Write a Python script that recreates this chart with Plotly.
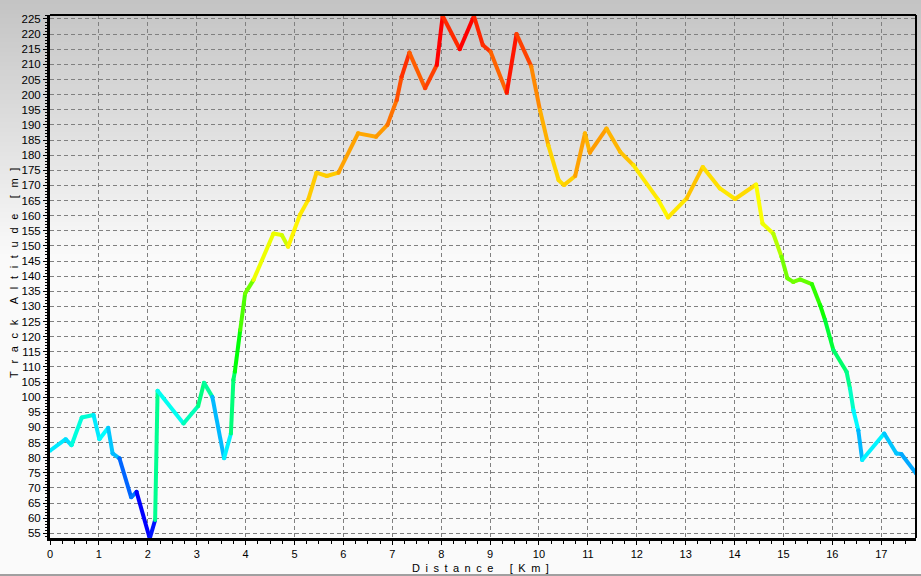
import colorsys
import numpy as np
import plotly.graph_objects as go

# ---- data ----
distance_km = [0, 0.32, 0.44, 0.65, 0.89, 1.01, 1.19, 1.28, 1.42, 1.66, 1.77, 2.04, 2.15, 2.20,
               2.73, 3.03, 3.15, 3.32, 3.56, 3.70, 3.75, 3.78, 3.89, 3.99, 4.16, 4.57, 4.74,
               4.87, 5.11, 5.28, 5.45, 5.66, 5.90, 6.30, 6.67, 6.90, 7.09, 7.19, 7.35, 7.67,
               7.91, 8.03, 8.38, 8.67, 8.85, 9.01, 9.34, 9.54, 9.84, 10.02, 10.19, 10.40,
               10.51, 10.74, 10.94, 11.04, 11.38, 11.66, 11.93, 12.44, 12.64, 13.02, 13.35,
               13.70, 14.01, 14.44, 14.57, 14.79, 14.96, 15.08, 15.20, 15.34, 15.58, 15.75,
               15.85, 16.02, 16.29, 16.36, 16.43, 16.53, 16.61, 17.06, 17.31, 17.41, 17.71]
altitude_m = [82.3, 86.1, 84.1, 93.3, 94.1, 86.1, 89.9, 81.4, 79.8, 66.9, 68.7, 53.3, 59.4, 102.1,
              91.3, 97.1, 104.8, 100.1, 79.8, 88.0, 105.7, 108.4, 122.2, 134.3, 138.7, 154.1, 153.6,
              149.7, 160.2, 165.2, 174.2, 173.1, 174.2, 187.2, 186.1, 190.0, 198.2, 205.9, 213.9, 202.1,
              209.8, 226.0, 215.0, 226.0, 216.4, 214.2, 200.6, 220.0, 209.4, 194.9, 183.3, 171.8,
              170.1, 173.1, 187.2, 180.8, 188.8, 181.1, 176.7, 165.2, 159.4, 165.7, 176.1,
              169.0, 165.5, 170.3, 157.4, 154.1, 146.4, 139.3, 138.1, 138.9, 137.4, 130.4,
              125.5, 115.6, 108.4, 102.9, 95.7, 89.1, 79.2, 88.0, 81.4, 81.2, 74.8]

x_title = "D\u2002i\u2002s\u2002t\u2002a\u2002n\u2002c\u2002e\u2002\u2002\u2002[\u2002K\u2002m\u2002]"
y_title = ("T\u2002\u2009r\u2002\u2009a\u2002\u2009c\u2002\u2009k\u2002\u2009\u2002\u2009"
           "A\u2002\u2009l\u2002\u2009t\u2002\u2009i\u2002\u2009t\u2002\u2009u\u2002\u2009"
           "d\u2002\u2009e\u2002\u2009\u2002\u2009[\u2002\u2009m\u2002\u2009]")

# ---- colour scale (altitude -> hue) ----
HUE_ALT = [53, 60, 68, 75, 80, 85, 90, 95, 100, 105, 110, 120, 130, 138, 146, 154, 160,
           170, 175, 185, 195, 200, 210, 215, 220, 226]
HUE_DEG = [240, 235, 213, 200, 196, 186, 180, 168, 157, 150, 142, 125, 110, 95, 78, 64, 58,
           52, 47, 40, 32, 24, 15, 10, 5, 0]


def alt_color(a):
    h = float(np.interp(a, HUE_ALT, HUE_DEG)) / 360.0
    r, g, b = colorsys.hsv_to_rgb(h, 1.0, 1.0)
    return f"rgb({int(r*255)},{int(g*255)},{int(b*255)})"


# ---- geometry helpers (pixel -> paper) ----
W, H = 921, 576
ML, MR, MT, MB = 50, 5, 15, 38
PW, PH = W - ML - MR, H - MT - MB


def px_x(x):
    return (x - ML) / PW


def px_y(y):
    return (H - MB - y) / PH


fig = go.Figure()

for i in range(1, len(distance_km)):
    c = alt_color(altitude_m[i])
    fig.add_trace(go.Scatter(
        x=[distance_km[i - 1], distance_km[i]],
        y=[altitude_m[i - 1], altitude_m[i]],
        mode="lines+markers",
        line=dict(color=c, width=4),
        marker=dict(color=c, size=4),
        showlegend=False, hoverinfo="skip"))

shapes = []
# background gradient
for yp in range(0, 262, 2):
    g = int(min(250, 196 + (yp + 1) / 255.0 * 54))
    col = f"rgb({g},{g},{g})"
    shapes.append(dict(type="rect", xref="paper", yref="paper",
                       x0=px_x(0), x1=px_x(W), y0=px_y(yp + 2.5), y1=px_y(yp),
                       fillcolor=col, line=dict(width=0), layer="below"))
shapes.append(dict(type="rect", xref="paper", yref="paper",
                   x0=px_x(0), x1=px_x(W), y0=px_y(H), y1=px_y(262),
                   fillcolor="rgb(250,250,250)", line=dict(width=0), layer="below"))
# bottom window line
shapes.append(dict(type="line", xref="paper", yref="paper",
                   x0=px_x(0), x1=px_x(W), y0=px_y(575), y1=px_y(575),
                   line=dict(color="#a0a0a0", width=2), layer="above"))
# top & right frame
shapes.append(dict(type="line", xref="paper", yref="paper", x0=0, x1=1, y0=1, y1=1,
                   line=dict(color="black", width=2), layer="above"))
shapes.append(dict(type="line", xref="paper", yref="paper", x0=1, x1=1, y0=0, y1=1,
                   line=dict(color="black", width=2), layer="above"))

font_main = "Liberation Sans, Arial, sans-serif"

fig.update_layout(
    width=W, height=H,
    margin=dict(l=ML, r=MR, t=MT, b=MB, pad=0),
    paper_bgcolor="rgba(0,0,0,0)",
    plot_bgcolor="rgba(0,0,0,0)",
    shapes=shapes,
    font=dict(family=font_main, size=11, color="black"),
    annotations=[
        dict(text=x_title, xref="paper", yref="paper", x=px_x(480), y=px_y(568),
             xanchor="center", yanchor="middle", showarrow=False,
             font=dict(family=font_main, size=11, color="black")),
        dict(text=y_title, xref="paper", yref="paper", x=px_x(14), y=px_y(273),
             xanchor="center", yanchor="middle", showarrow=False, textangle=-90,
             font=dict(family=font_main, size=11, color="black")),
    ],
)

fig.update_xaxes(
    range=[0, 17.71], dtick=1, tick0=0,
    showgrid=True, gridcolor="#808080", gridwidth=1, griddash="4px,3px",
    zeroline=False, showline=True, linecolor="black", linewidth=3,
    ticks="outside", ticklen=4, tickcolor="black", tickwidth=1,
    ticklabelstandoff=0,
    tickfont=dict(family=font_main, size=11, color="black"),
    minor=dict(dtick=0.25, ticks="outside", ticklen=3, tickcolor="black", showgrid=False),
)
fig.update_yaxes(
    range=[53.45, 226.32], dtick=5, tick0=0,
    showgrid=True, gridcolor="#808080", gridwidth=1, griddash="4px,3px",
    zeroline=False, showline=True, linecolor="black", linewidth=3,
    ticks="outside", ticklen=4, tickcolor="black", tickwidth=1,
    tickfont=dict(family=font_main, size=11.5, color="black"),
    minor=dict(dtick=1, ticks="outside", ticklen=2, tickcolor="black", showgrid=False),
)

fig.write_html("out.html", config={"displayModeBar": False},
               post_script="document.body.style.margin='0px';document.body.style.padding='0px';")
